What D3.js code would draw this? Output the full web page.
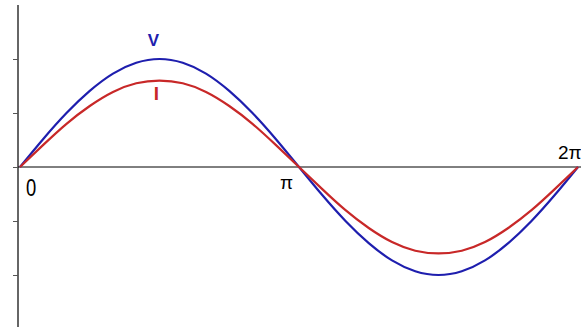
<!DOCTYPE html>
<html lang="en">
<head>
    <meta charset="UTF-8">
    <title>V and I sine</title>
    <script src="https://cdn.jsdelivr.net/npm/d3@7"></script>
    <style>
        body { margin: 0; background: #fff; }
        text { font-family: "Liberation Sans", Arial, sans-serif; }
    </style>
</head>
<body>
    <script>
        // phase angle in units of pi/12, from 0 to 2pi
        var phase = d3.range(0, 25);
        // voltage and current (axis units)
        var voltage = [0, 0.52, 1.0, 1.41, 1.73, 1.93, 2.0, 1.93, 1.73, 1.41, 1.0, 0.52, 0,
                       -0.52, -1.0, -1.41, -1.73, -1.93, -2.0, -1.93, -1.73, -1.41, -1.0, -0.52, 0];
        var current = [0, 0.41, 0.8, 1.13, 1.39, 1.55, 1.6, 1.55, 1.39, 1.13, 0.8, 0.41, 0,
                       -0.41, -0.8, -1.13, -1.39, -1.55, -1.6, -1.55, -1.39, -1.13, -0.8, -0.41, 0];
        var yTicks = [-2, -1, 0, 1, 2];
        var xLabels = [
            {v: 0, text: '0'},
            {v: 12, text: 'π'},
            {v: 24, text: '2π'}
        ];

        var w = 581;
        var h = 327;

        var svg = d3.select('body')
                    .append('svg')
                    .attr('width', w)
                    .attr('height', h);

        var xScale = d3.scaleLinear()
                        .domain([0, 24])
                        .range([20, 578]);

        var yScale = d3.scaleLinear()
                        .domain([-3, 3])
                        .range([329, 5]);

        // vertical axis on the left
        var yAxis = d3.axisLeft(yScale)
                        .tickValues(yTicks)
                        .tickSize(5)
                        .tickFormat('');

        var yg = svg.append('g')
            .attr('transform', 'translate(18,0)')
            .call(yAxis);
        yg.select('.domain')
            .attr('d', 'M0,' + yScale(3) + 'V' + h)
            .attr('stroke', '#333')
            .attr('stroke-width', 1.5);
        yg.selectAll('.tick line')
            .attr('stroke', '#555');

        // horizontal zero line
        svg.append('line')
            .attr('x1', 18)
            .attr('x2', w)
            .attr('y1', yScale(0))
            .attr('y2', yScale(0))
            .attr('stroke', '#000')
            .attr('stroke-width', 1);

        var line = function(values) {
            return d3.line()
                .x(function(d, i) { return xScale(phase[i]); })
                .y(function(d) { return yScale(d); })
                .curve(d3.curveNatural)(values);
        };

        svg.append('path')
            .attr('d', line(voltage))
            .attr('fill', 'none')
            .attr('stroke', '#1e1eae')
            .attr('stroke-width', 2.2);

        svg.append('path')
            .attr('d', line(current))
            .attr('fill', 'none')
            .attr('stroke', '#c82828')
            .attr('stroke-width', 2.2);

        // series labels
        svg.append('text')
            .attr('x', xScale(6) - 6)
            .attr('y', yScale(2) - 13)
            .attr('text-anchor', 'middle')
            .attr('font-size', 17)
            .attr('font-weight', 'bold')
            .attr('fill', '#1e1eae')
            .text('V');

        svg.append('text')
            .attr('x', xScale(6) - 3)
            .attr('y', yScale(1.6) + 19)
            .attr('text-anchor', 'middle')
            .attr('font-size', 19)
            .attr('font-weight', 'bold')
            .attr('fill', '#c82828')
            .text('I');

        // phase labels
        svg.selectAll('.xlabel')
            .data(xLabels)
            .enter()
            .append('text')
            .attr('class', 'xlabel')
            .attr('transform', function(d) {
                var x, y;
                if (d.v === 0) { x = xScale(d.v) + 6; y = yScale(0) + 29; }
                else if (d.v === 12) { x = xScale(d.v) - 19; y = yScale(0) + 22; }
                else { x = xScale(d.v) - 20; y = yScale(0) - 8; }
                return 'translate(' + x + ',' + y + ')' + (d.v === 0 ? ' scale(0.8,1)' : '');
            })
            .attr('font-size', function(d) { return d.v === 0 ? 23 : 19; })
            .text(function(d) { return d.text; });
    </script>
</body>
</html>
